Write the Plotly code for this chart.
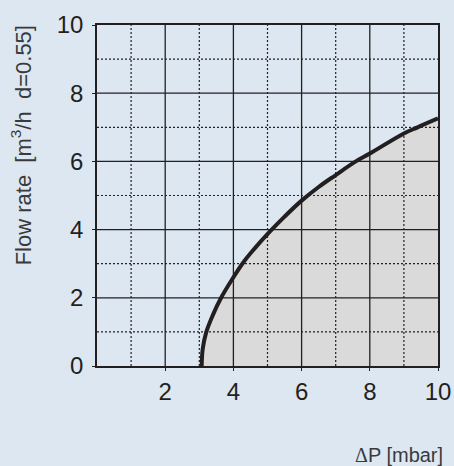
import plotly.graph_objects as go

# Flow rate curve
dp = [3.07, 3.10, 3.20, 3.40, 3.64, 4.00, 4.30, 4.60, 5.06, 5.50, 6.00, 6.50, 7.00, 7.59, 8.00, 9.00, 9.40, 10.00]
q = [0.00, 0.50, 0.98, 1.50, 2.00, 2.60, 3.05, 3.42, 3.93, 4.38, 4.85, 5.25, 5.60, 6.00, 6.23, 6.82, 7.00, 7.26]

x_ticks = [2, 4, 6, 8, 10]
y_ticks = [0, 2, 4, 6, 8, 10]
major_grid = [2, 4, 6, 8]
minor_grid = [1, 3, 5, 7, 9]

BG = "#dde7f1"
INK = "#231f20"
FILL = "#dadada"
FONT = "Liberation Sans, Arial, Helvetica, sans-serif"

fig = go.Figure()
fig.add_trace(go.Scatter(
    x=dp, y=q, mode="lines", fill="tozeroy", fillcolor=FILL,
    line=dict(color=INK, width=4, shape="spline", smoothing=1.1),
    hoverinfo="skip", showlegend=False,
))

shapes = []
for v in major_grid:
    shapes.append(dict(type="line", xref="x", yref="y", x0=v, x1=v, y0=0, y1=10,
                       line=dict(color=INK, width=1.3), layer="above"))
    shapes.append(dict(type="line", xref="x", yref="y", x0=0, x1=10, y0=v, y1=v,
                       line=dict(color=INK, width=1.3), layer="above"))
for v in minor_grid:
    shapes.append(dict(type="line", xref="x", yref="y", x0=v, x1=v, y0=0, y1=10,
                       line=dict(color=INK, width=1.2, dash="2px,2px"), layer="above"))
    shapes.append(dict(type="line", xref="x", yref="y", x0=0, x1=10, y0=v, y1=v,
                       line=dict(color=INK, width=1.2, dash="2px,2px"), layer="above"))

axis_common = dict(
    range=[0, 10], showgrid=False, zeroline=False,
    showline=True, linecolor=INK, linewidth=1.5, mirror=True,
    ticks="outside", ticklen=3, tickwidth=1.3, tickcolor=INK,
    tickfont=dict(family=FONT, size=24, color=INK),
    layer="above traces", fixedrange=True, automargin=False,
)

fig.update_layout(
    width=454, height=466,
    margin=dict(l=97, r=16, t=25, b=100, autoexpand=False),
    paper_bgcolor=BG, plot_bgcolor=BG,
    xaxis=dict(**axis_common, tickvals=x_ticks, ticktext=[str(t) for t in x_ticks], ticklabelstandoff=0),
    yaxis=dict(**axis_common, tickvals=y_ticks, ticktext=[str(t) for t in y_ticks], ticklabelstandoff=4),
    shapes=shapes,
    annotations=[
        dict(text="Flow rate\u00a0\u00a0[m<sup>3</sup>/h\u00a0\u00a0d=0.55]",
             xref="paper", yref="paper", x=-0.222, y=0.648,
             xanchor="center", yanchor="middle", textangle=-90, showarrow=False,
             font=dict(family=FONT, size=22, color="#3a3a3a")),
        dict(text="<span style='font-family:Liberation Serif'>\u0394</span>P [mbar]",
             xref="paper", yref="paper", x=1.02, y=-0.262,
             xanchor="right", yanchor="middle", showarrow=False,
             font=dict(family=FONT, size=20, color="#3a3a3a")),
    ],
)

fig.write_html("out.html")
